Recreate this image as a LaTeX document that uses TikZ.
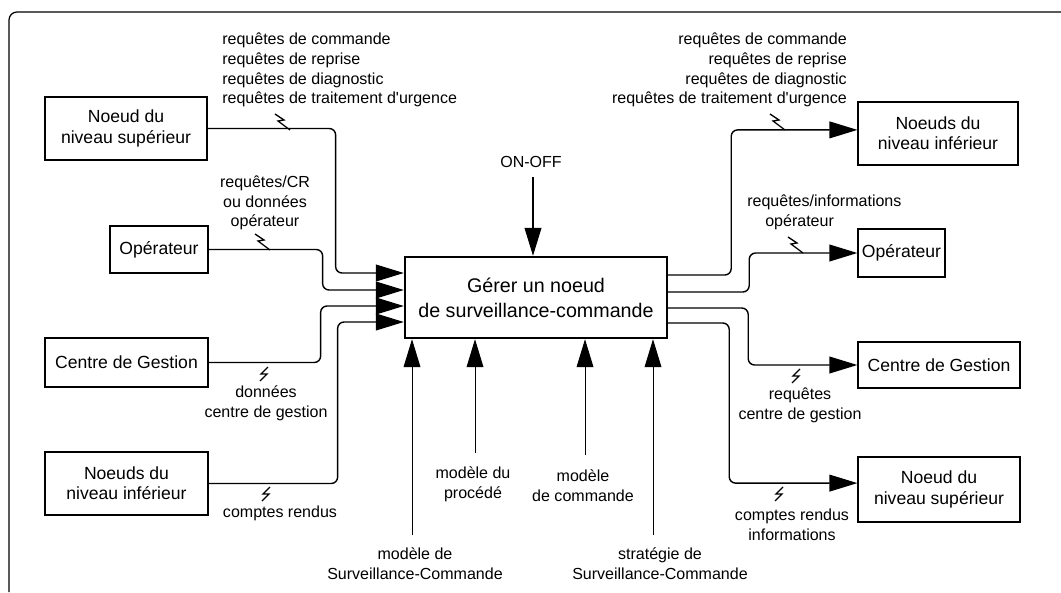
\documentclass[tikz,border=0pt]{standalone}
\usepackage{fontspec}
\setmainfont{Liberation Sans}[Ligatures=TeXOff]
\usetikzlibrary{arrows.meta,calc}

\begin{document}
\begin{tikzpicture}[x=0.25mm,y=-0.25mm,
    box/.style={draw,line width=0.9pt,inner sep=0pt,align=center,
      font=\fontsize{12.5}{14.5}\selectfont},
    mainbox/.style={draw,line width=1.7pt,inner sep=0pt,align=center,
      minimum width=65.5mm,minimum height=20.25mm,
      font=\fontsize{14}{17.7}\selectfont},
    lbl/.style={inner sep=0pt,font=\fontsize{11.4}{14}\selectfont},
    flow/.style={line width=1pt,rounded corners=1.6mm,
      -{Triangle[length=7mm,width=4.2mm]}},
    zap/.style={line width=0.9pt}]
  % Bolt on a line (above, below)
  \newcommand\zapup[1]{\draw[zap] (#1) ++(-15,-16) -- ++(9,6) -- ++(-6,1) -- ++(12,9);}
  \newcommand\zapdn[1]{\draw[zap] (#1) ++(0,4) -- ++(-7,7) -- ++(6,0) -- ++(-7,7);}
  \useasboundingbox (0,0) rectangle (1061,592);

  % Frame
  \draw[line width=0.9pt,rounded corners=2mm] (1061,12) -- (9,12) -- (9,592);

  % Activity
  \node[mainbox] (main) at (536,297.5) {Gérer un noeud\\de surveillance-commande};

  % Left boxes
  \node[box,minimum width=40.5mm,minimum height=15.75mm] (lsup) at (126,128.5) {Noeud du\\niveau supérieur};
  \node[box,minimum width=24.5mm,minimum height=11.75mm] (lop) at (159,249.5) {Opérateur};
  \node[box,minimum width=40.75mm,minimum height=12.25mm] (lcg) at (126.5,362.5) {Centre de Gestion};
  \node[box,minimum width=40.75mm,minimum height=15.75mm] (linf) at (126.5,483.5) {Noeuds du\\niveau inférieur};

  % Right boxes
  \node[box,minimum width=40mm,minimum height=15.75mm] (rinf) at (938,133.5) {Noeuds du\\niveau inférieur};
  \node[box,minimum width=21.75mm,minimum height=12mm] (rop) at (901.5,253) {Opérateur};
  \node[box,minimum width=40.5mm,minimum height=11.5mm] (rcg) at (939,365) {Centre de Gestion};
  \node[box,minimum width=40.5mm,minimum height=16.25mm] (rsup) at (939,489.5) {Noeud du\\niveau supérieur};

  % Inputs
  \draw[flow] (lsup.east) -- ++(128,0) |- ($(main.west)+(0,-24.5)$);
  \draw[flow] (lop.east) -- ++(114,0) |- ($(main.west)+(0,-7.5)$);
  \draw[flow] (lcg.east) -- ++(112,0) |- ($(main.west)+(0,8.5)$);
  \draw[flow] (linf.east) -- ++(129,0) |- ($(main.west)+(0,24.5)$);
  \zapup{290,130} \zapup{270,250} \zapdn{268,363} \zapdn{270,483}

  \node[lbl,anchor=west,align=left] (tl) at (222,70) {requêtes de commande\\requêtes de reprise\\requêtes de diagnostic\\requêtes de traitement d'urgence};
  \node[lbl,align=center] (lopl) at (265,203) {requêtes/CR\\ou données\\opérateur};
  \node[lbl,align=center] (lcgl) at (266,403) {données\\centre de gestion};
  \node[lbl] (linfl) at (280,513) {comptes rendus};

  % Outputs
  \draw[flow] ($(main.east)+(0,-22.5)$) -- ++(63,0) |- ([yshift=0.9mm]rinf.west);
  \draw[flow] ($(main.east)+(0,-5.5)$) -- ++(81,0) |- (rop.west);
  \draw[flow] ($(main.east)+(0,10.5)$) -- ++(80,0) |- (rcg.west);
  \draw[flow] ($(main.east)+(0,25.5)$) -- ++(61,0) |- ([yshift=1.6mm]rsup.west);
  \zapup{785,130} \zapup{803,253} \zapdn{800,365} \zapdn{783,483}

  \node[lbl,anchor=east,align=right] (tr) at (847,70) {requêtes de commande\\requêtes de reprise\\requêtes de diagnostic\\requêtes de traitement d'urgence};
  \node[lbl,anchor=west,align=left] (ropl) at (747,212) {requêtes/informations\\\hspace*{4.5mm}opérateur};
  \node[lbl,align=center] (rcgl) at (800,405) {requêtes\\centre de gestion};
  \node[lbl,align=center] (rsupl) at (792,525) {comptes rendus\\informations};

  % Control
  \node[lbl] (onoff) at (531,162) {ON-OFF};
  \coordinate (onin) at (533,177);
  \draw[flow] (onin) -- (onin |- main.north);

  % Mechanisms
  \node[lbl,align=center] (msc) at (415,564) {modèle de\\Surveillance-Commande};
  \node[lbl,align=center] (mpro) at (473,484) {modèle du\\procédé};
  \node[lbl,align=center] (mcom) at (583,486) {modèle\\de commande};
  \node[lbl,align=center] (ssc) at (660,564) {stratégie de\\Surveillance-Commande};
  \coordinate (mscin) at (412,535);
  \coordinate (mproin) at (475,453);
  \coordinate (mcomin) at (585,455);
  \coordinate (sscin) at (653,535);
  \draw[flow,line width=0.7pt] (mscin) -- (mscin |- main.south);
  \draw[flow,line width=0.7pt] (mproin) -- (mproin |- main.south);
  \draw[flow,line width=0.7pt] (mcomin) -- (mcomin |- main.south);
  \draw[flow,line width=0.7pt] (sscin) -- (sscin |- main.south);
\end{tikzpicture}
\end{document}
